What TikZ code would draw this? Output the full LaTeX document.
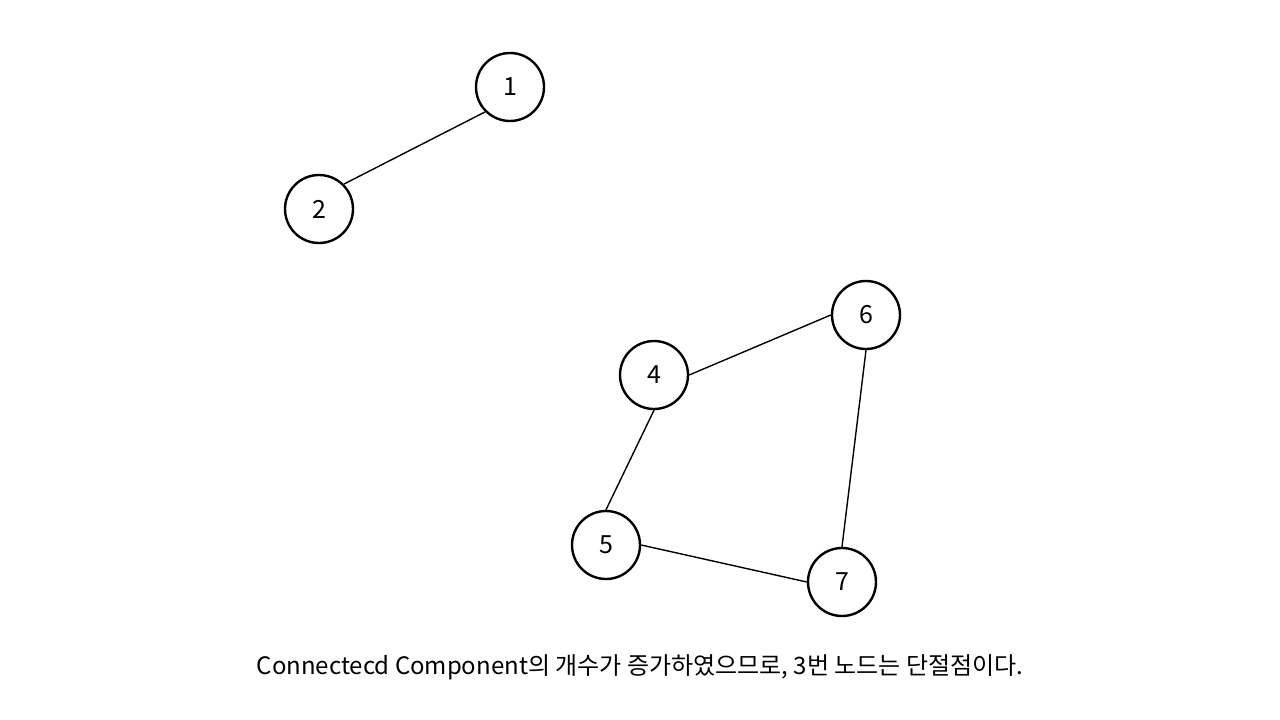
\documentclass[tikz,border=0pt]{standalone}
\usepackage{fontspec}
\setmainfont{Noto Sans CJK KR}
\begin{document}
\begin{tikzpicture}[x=1pt,y=-1pt,
  vtx/.style={circle,draw,line width=2.4pt,minimum size=68pt,inner sep=0pt,font=\fontsize{25}{30}\selectfont},
  edge/.style={line width=1.4pt}]
\useasboundingbox (0,0) rectangle (1280,720);
\node[vtx] (n1) at (510,87) {1};
\node[vtx] (n2) at (319,209) {2};
\node[vtx] (n4) at (654,375) {4};
\node[vtx] (n6) at (866,315) {6};
\node[vtx] (n5) at (606,545) {5};
\node[vtx] (n7) at (842,582) {7};
\draw[edge] (n1.south west) -- (n2.north east);
\draw[edge] (n4.east) -- (n6.west);
\draw[edge] (n4.south) -- (n5.north);
\draw[edge] (n6.south) -- (n7.north);
\draw[edge] (n5.east) -- (n7.west);
\node[font=\fontsize{24}{28}\selectfont] (cap) at (640,667) {Connectecd Component의 개수가 증가하였으므로, 3번 노드는 단절점이다.};
\end{tikzpicture}
\end{document}
